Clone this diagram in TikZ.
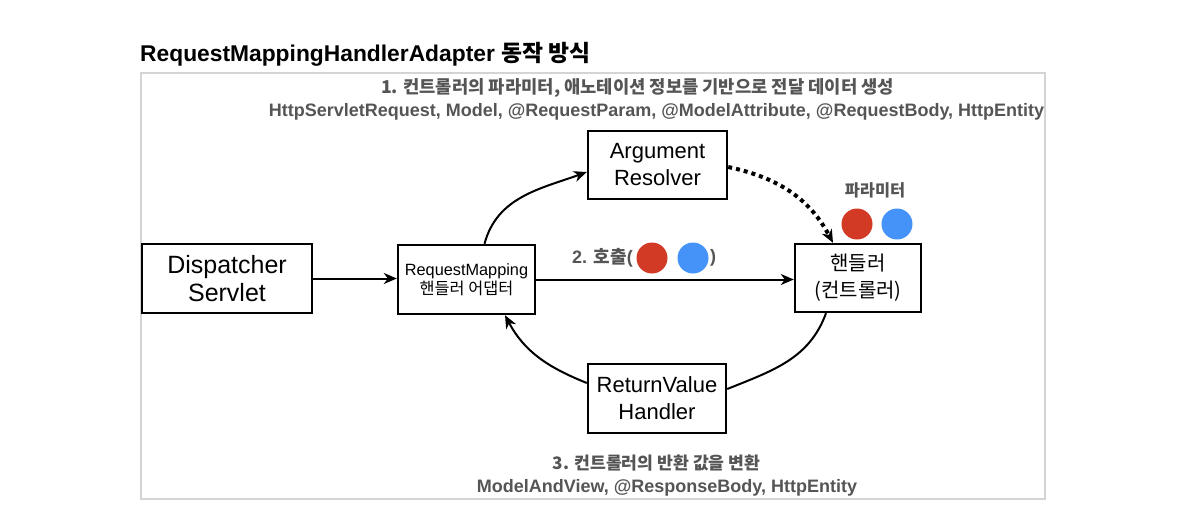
\documentclass[tikz,border=0pt]{standalone}
\usepackage{fontspec}
\setmainfont{Liberation Sans}
\newfontfamily\kr{Noto Sans CJK KR}
\usetikzlibrary{arrows.meta}
\definecolor{paramRed}{HTML}{D33A26}
\definecolor{paramBlue}{HTML}{4593F8}
\definecolor{noteGray}{HTML}{555555}
\definecolor{frameGray}{HTML}{D4D4D4}

\begin{document}
\begin{tikzpicture}
[x=1pt,y=-1pt,
  boxDecorate/.style={draw,line width=2.4pt,align=center,inner sep=0pt,
    font=\fontsize{22}{27}\selectfont},
  lineDecorate/.style={line width=2pt,-{Stealth[length=13pt,width=11pt,inset=4pt]}},
  noteDecorate/.style={text=noteGray,inner sep=0pt,font=\bfseries\fontsize{18}{20}\selectfont},
  krNote/.style={noteDecorate,font=\kr\bfseries\fontsize{18}{20}\selectfont},
  dotDecorate/.style={circle,minimum size=31pt,inner sep=0pt}]
\useasboundingbox (0,0) rectangle (1184,520);
%% frame and title
\draw[frameGray,line width=1.5pt] (141,73) rectangle (1045,499);
\node[anchor=base west,inner sep=0pt,font=\bfseries\fontsize{22.8}{26}\selectfont] (title)
  at (140,61) {RequestMappingHandlerAdapter {\kr 동작 방식}};
%% boxes
\node[boxDecorate,minimum width=170pt,minimum height=69pt,
  font=\fontsize{25}{28}\selectfont] (ds) at (227,278.5) {Dispatcher\\Servlet};
\node[boxDecorate,minimum width=137pt,minimum height=69pt,
  font=\fontsize{16.3}{19}\selectfont] (rm) at (466.5,279.5)
  {RequestMapping\\{\kr 핸들러 어댑터}};
\node[boxDecorate,minimum width=139pt,minimum height=68pt] (ar) at (657.5,165)
  {Argument\\Resolver};
\node[boxDecorate,minimum width=126pt,minimum height=68pt,
  font=\kr\fontsize{20}{27}\selectfont] (hd) at (858,278) {핸들러\\(컨트롤러)};
\node[boxDecorate,minimum width=138pt,minimum height=69pt] (rv) at (657,398.5)
  {ReturnValue\\Handler};
%% notes
\node[krNote,font=\kr\bfseries\fontsize{17.7}{20}\selectfont] (note1) at (637.5,88)
  {1. 컨트롤러의 파라미터, 애노테이션 정보를 기반으로 전달 데이터 생성};
\node[noteDecorate] (note2) at (656.5,112)
  {HttpServletRequest, Model, @RequestParam, @ModelAttribute, @RequestBody, HttpEntity};
\node[noteDecorate,anchor=east] (call) at (633,258) {2. {\kr 호출}(};
\node[dotDecorate,fill=paramRed] (callRed) at (652,258) {};
\node[dotDecorate,fill=paramBlue] (callBlue) at (693,258) {};
\node[noteDecorate,anchor=west] (callEnd) at (710,258) {)};
\node[krNote,font=\kr\bfseries\fontsize{16.4}{18}\selectfont] (param) at (875,190) {파라미터};
\node[dotDecorate,fill=paramRed] (paramRed) at (857,224) {};
\node[dotDecorate,fill=paramBlue] (paramBlue) at (897,224) {};
\node[krNote,font=\kr\bfseries\fontsize{17.2}{20}\selectfont] (note3) at (656.5,463)
  {3. 컨트롤러의 반환 값을 변환};
\node[noteDecorate] (note4) at (667,488) {ModelAndView, @ResponseBody, HttpEntity};
%% connectors
\draw[lineDecorate] (ds.east) -- (ds.east -| rm.west);
\draw[lineDecorate] (rm.east) -- (rm.east -| hd.west);
\draw[lineDecorate] ([xshift=18pt]rm.north) to[out=75,in=200] ([yshift=-7pt]ar.west);
\draw[line width=4pt,dash pattern=on 4pt off 4pt,
  -{Stealth[length=13pt,width=11pt,inset=4pt]}]
  ([yshift=-2pt]ar.east) to[out=-12,in=118] ([xshift=-25pt]hd.north);
\draw[line width=2pt] ([xshift=-32pt]hd.south) to[out=-110,in=22] ([yshift=9.5pt]rv.east);
\draw[lineDecorate] ([yshift=15.5pt]rv.west) to[out=158,in=-62] ([xshift=38.5pt]rm.south);
\end{tikzpicture}
\end{document}
